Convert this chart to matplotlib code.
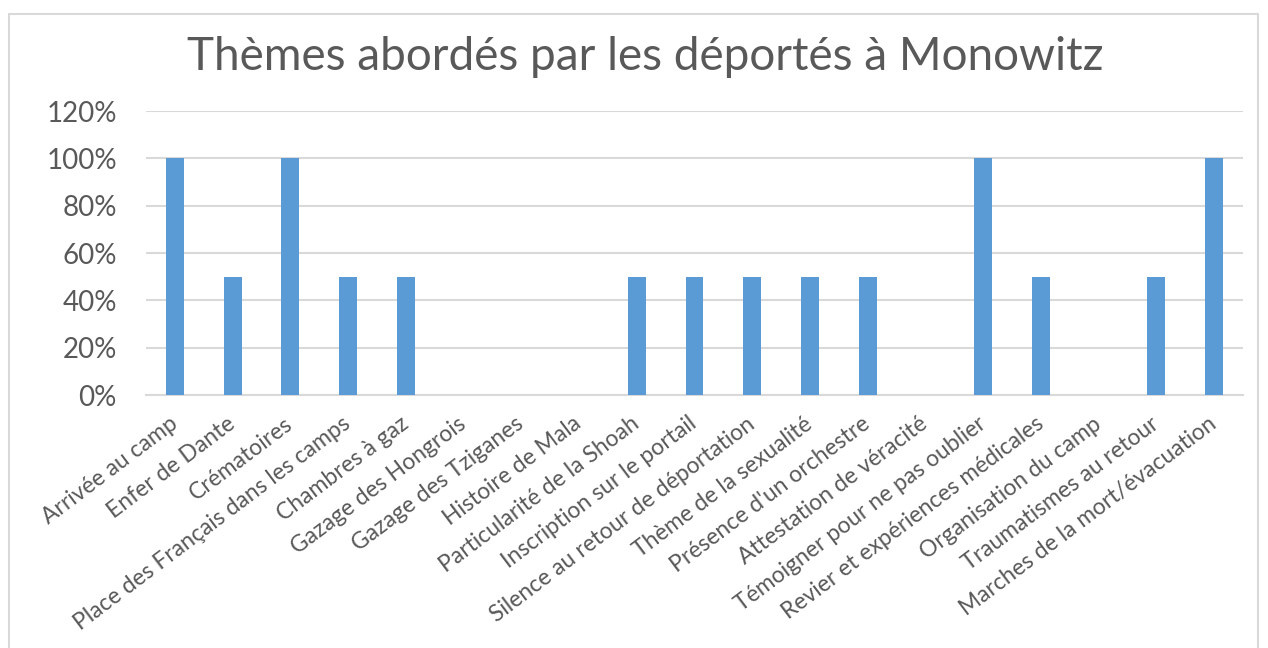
import matplotlib.pyplot as plt
from matplotlib.patches import Rectangle
from matplotlib.ticker import FuncFormatter

plt.rcParams['font.family'] = ['Lato', 'DejaVu Sans']

themes = ["Arrivée au camp", "Enfer de Dante", "Crématoires",
          "Place des Français dans les camps", "Chambres à gaz",
          "Gazage des Hongrois", "Gazage des Tziganes", "Histoire de Mala",
          "Particularité de la Shoah", "Inscription sur le portail",
          "Silence au retour de déportation", "Thème de la sexualité",
          "Présence d'un orchestre", "Attestation de véracité",
          "Témoigner pour ne pas oublier", "Revier et expériences médicales",
          "Organisation du camp", "Traumatismes au retour",
          "Marches de la mort/évacuation"]
parts = [1.0, 0.5, 1.0, 0.5, 0.5, 0, 0, 0, 0.5, 0.5,
         0.5, 0.5, 0.5, 0, 1.0, 0.5, 0, 0.5, 1.0]
yticks = [0, 0.2, 0.4, 0.6, 0.8, 1.0, 1.2]

grey = '#595959'
fig = plt.figure(figsize=(12.68, 6.48), dpi=100)
fig.patches.append(Rectangle((9 / 1268, -0.1), 1249 / 1268, 1.1 - 14 / 648,
                             transform=fig.transFigure, fill=False,
                             edgecolor='#d9d9d9', linewidth=1.5))
ax = fig.add_axes([146 / 1268, 1 - 395 / 648, 1097 / 1268, 284 / 648])

x = range(len(themes))
ax.bar(x, parts, width=0.31, color='#5b9bd5', zorder=3)

ax.set_xlim(-0.5, len(themes) - 0.5)
ax.set_ylim(0, 1.2)
ax.set_yticks(yticks)
ax.yaxis.set_major_formatter(FuncFormatter(lambda v, p: "{:.0f}%".format(v * 100)))
ax.grid(axis='y', color='#d9d9d9', linewidth=1.5, zorder=0)
ax.set_xticks(list(x))
ax.set_xticklabels(themes, rotation=37, ha='right', va='center',
                   rotation_mode='anchor')

for s in ['top', 'right', 'left']:
    ax.spines[s].set_visible(False)
ax.spines['bottom'].set_color('#d9d9d9')
ax.spines['bottom'].set_linewidth(1.5)
ax.tick_params(length=0, colors=grey)
ax.tick_params(axis='y', labelsize=20, pad=21)
ax.tick_params(axis='x', labelsize=16.5, pad=19)

fig.text(0.509, 1 - 57 / 648, "Thèmes abordés par les déportés à Monowitz",
         ha='center', va='center', fontsize=33, color=grey)

plt.savefig("out.png")
